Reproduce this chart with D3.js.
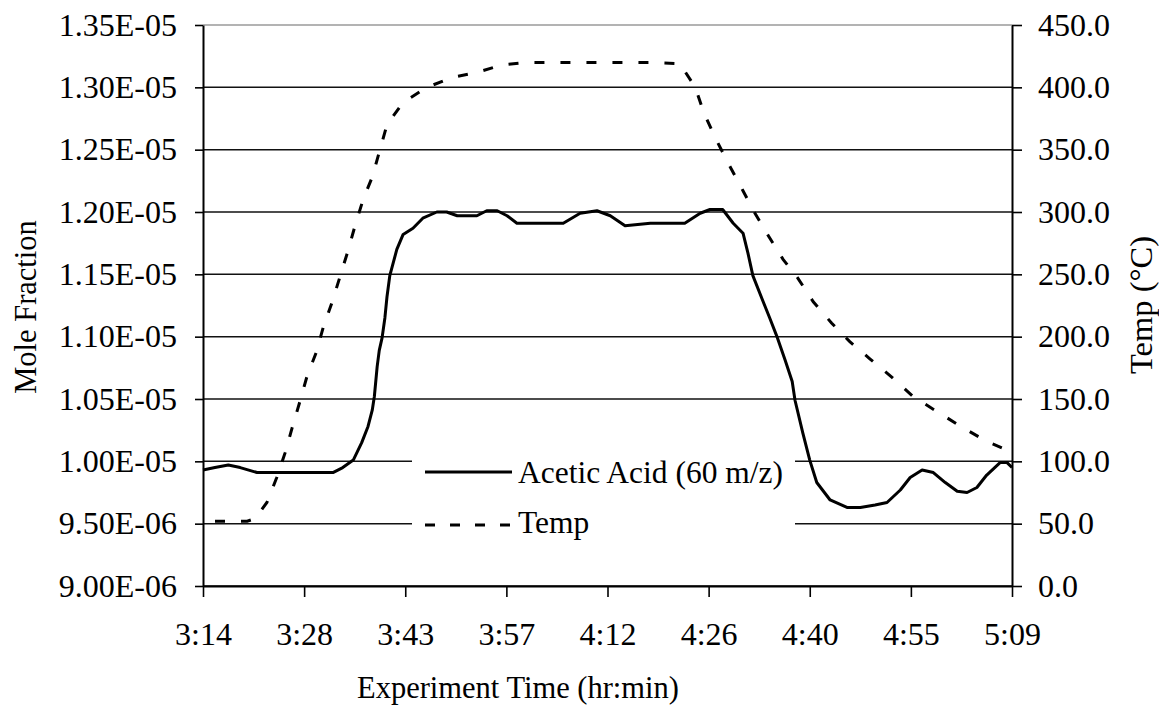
<!DOCTYPE html>
<html>
<head>
<meta charset="utf-8">
<script src="https://cdn.jsdelivr.net/npm/d3@7"></script>
<style>
  body { margin: 0; background: #fff; }
  svg { display: block; }
</style>
</head>
<body>
<svg id="chart" width="1159" height="710" font-family="'Liberation Serif', 'DejaVu Serif', 'Times New Roman', serif"></svg>
<script>
// Acetic acid (60 m/z) signal: time in minutes after midnight, mole fraction
const aceticTime = [194.4, 196.1, 198.0, 199.7, 202.1, 206.8, 212.9, 214.3, 215.8, 217.0,
  217.9, 218.5, 218.8, 219.2, 219.5, 219.9, 220.3, 220.6, 221.0, 222.0,
  222.9, 224.3, 225.7, 227.7, 229.1, 230.6, 233.4, 234.8, 236.3, 237.7,
  239.1, 245.7, 248.1, 250.5, 252.4, 254.5, 258.1, 263.0, 265.2, 266.6,
  268.4, 269.9, 271.3, 272.0, 272.7, 274.1, 275.1, 276.2, 277.3, 278.3,
  278.7, 279.8, 280.8, 281.8, 283.7, 286.1, 288.0, 290.1, 291.8, 293.7,
  295.1, 296.8, 298.4, 300.1, 301.8, 303.2, 304.6, 306.0, 307.9, 308.9, 309.6];
const aceticMole = [9.93e-6, 9.95e-6, 9.97e-6, 9.95e-6, 9.91e-6, 9.91e-6, 9.91e-6, 9.95e-6, 1.001e-5, 1.015e-5,
  1.028e-5, 1.041e-5, 1.052e-5, 1.076e-5, 1.089e-5, 1.099e-5, 1.115e-5, 1.132e-5, 1.149e-5, 1.170e-5,
  1.182e-5, 1.187e-5, 1.195e-5, 1.200e-5, 1.200e-5, 1.197e-5, 1.197e-5, 1.201e-5, 1.201e-5, 1.197e-5,
  1.191e-5, 1.191e-5, 1.199e-5, 1.201e-5, 1.197e-5, 1.189e-5, 1.191e-5, 1.191e-5, 1.199e-5, 1.202e-5,
  1.202e-5, 1.191e-5, 1.183e-5, 1.167e-5, 1.149e-5, 1.129e-5, 1.115e-5, 1.099e-5, 1.081e-5, 1.064e-5,
  1.049e-5, 1.023e-5, 1.001e-5, 9.83e-6, 9.69e-6, 9.63e-6, 9.63e-6, 9.65e-6, 9.67e-6, 9.77e-6,
  9.87e-6, 9.93e-6, 9.91e-6, 9.83e-6, 9.76e-6, 9.75e-6, 9.79e-6, 9.89e-6, 9.99e-6, 9.99e-6, 9.95e-6];

// Reactor temperature (°C) over the same run
const tempTime = [194.4, 200.7, 201.8, 203.5, 204.9, 206.1, 207.1, 208.2, 209.2, 210.5,
  211.5, 212.8, 213.9, 215.0, 216.0, 217.2, 218.5, 219.6, 220.6, 222.9,
  226.3, 229.9, 233.4, 237.0, 240.7, 244.2, 250.9, 258.1, 262.3, 264.5,
  265.7, 267.3, 269.2, 271.2, 273.0, 274.9, 277.0, 279.1, 281.3, 283.9,
  286.5, 289.4, 292.6, 295.5, 298.9, 302.6, 306.0, 309.3];
const tempC = [52, 52, 54, 67, 87, 107, 127, 148, 168, 187,
  207, 228, 248, 268, 288, 310, 328, 350, 370, 388,
  400, 408, 412, 418, 420, 420, 420, 420, 419, 400,
  380, 360, 339, 318, 299, 281, 262, 247, 228, 211,
  196, 182, 167, 152, 140, 127, 116, 108];

// Axis ticks
const xTickMinutes = [194.4, 208.8, 223.2, 237.6, 252.0, 266.4, 280.8, 295.2, 309.6];
const xTickLabels = ["3:14", "3:28", "3:43", "3:57", "4:12", "4:26", "4:40", "4:55", "5:09"];
const moleTicks = [9.0e-6, 9.5e-6, 1.0e-5, 1.05e-5, 1.1e-5, 1.15e-5, 1.2e-5, 1.25e-5, 1.3e-5, 1.35e-5];
const moleTickLabels = ["9.00E-06", "9.50E-06", "1.00E-05", "1.05E-05", "1.10E-05",
  "1.15E-05", "1.20E-05", "1.25E-05", "1.30E-05", "1.35E-05"];
const tempTicks = [0, 50, 100, 150, 200, 250, 300, 350, 400, 450];

const seriesNames = ["Acetic Acid (60 m/z)", "Temp"];

const SERIF = "'Liberation Serif', 'DejaVu Serif', 'Times New Roman', serif";
const FONT = "32px";
const plotLeft = 203, plotRight = 1012, plotTop = 25, plotBottom = 586;

const svg = d3.select("#chart");

const x = d3.scaleLinear().domain([xTickMinutes[0], xTickMinutes[xTickMinutes.length - 1]]).range([plotLeft, plotRight]);
const yL = d3.scaleLinear().domain([9.0e-6, 1.35e-5]).range([plotBottom, plotTop]);
const yR = d3.scaleLinear().domain([0, 450]).range([plotBottom, plotTop]);

// horizontal gridlines at each mole-fraction tick
svg.append("g").selectAll("line").data(moleTicks).join("line")
  .attr("x1", plotLeft).attr("x2", plotRight)
  .attr("y1", d => yL(d)).attr("y2", d => yL(d))
  .attr("stroke", (d, i) => i === moleTicks.length - 1 ? "#9a9a9a" : "#111")
  .attr("stroke-width", 1.5);

function styleAxis(g) {
  g.attr("font-family", SERIF).attr("font-size", FONT);
  g.selectAll("text").attr("fill", "#000");
  g.selectAll(".tick line").attr("stroke", "#000").attr("stroke-width", 1.6);
  g.select(".domain").attr("stroke", "#000").attr("stroke-width", 2);
}

// left axis: mole fraction
svg.append("g").attr("transform", `translate(${plotLeft},0)`)
  .call(d3.axisLeft(yL).tickValues(moleTicks).tickFormat((d, i) => moleTickLabels[i])
    .tickSize(8).tickSizeOuter(0).tickPadding(18))
  .call(styleAxis);

// right axis: temperature
svg.append("g").attr("transform", `translate(${plotRight},0)`)
  .call(d3.axisRight(yR).tickValues(tempTicks).tickFormat(d3.format(".1f"))
    .tickSize(10).tickSizeOuter(0).tickPadding(16))
  .call(styleAxis);

// bottom axis: experiment time
const xAxisG = svg.append("g").attr("transform", `translate(0,${plotBottom})`)
  .call(d3.axisBottom(x).tickValues(xTickMinutes).tickFormat((d, i) => xTickLabels[i])
    .tickSize(11).tickSizeOuter(0))
  .call(styleAxis);
xAxisG.selectAll("text").attr("y", 59).attr("dy", 0);

// data lines
const aceticLine = d3.line().x(d => x(d[0])).y(d => yL(d[1]));
const tempLine = d3.line().x(d => x(d[0])).y(d => yR(d[1]));

svg.append("path")
  .datum(aceticTime.map((t, i) => [t, aceticMole[i]]))
  .attr("d", aceticLine)
  .attr("fill", "none").attr("stroke", "#000").attr("stroke-width", 3)
  .attr("stroke-linejoin", "round");

svg.append("path")
  .datum(tempTime.map((t, i) => [t, tempC[i]]))
  .attr("d", tempLine)
  .attr("fill", "none").attr("stroke", "#000").attr("stroke-width", 3)
  .attr("stroke-dasharray", "10,16").attr("stroke-dashoffset", 14);

// legend
const lg = svg.append("g").attr("font-family", SERIF).attr("font-size", "31.5px");
lg.append("rect").attr("x", 412).attr("y", 445).attr("width", 383).attr("height", 100).attr("fill", "#fff");
lg.append("line").attr("x1", 425).attr("x2", 512).attr("y1", 472).attr("y2", 472)
  .attr("stroke", "#000").attr("stroke-width", 3);
lg.append("line").attr("x1", 425).attr("x2", 512).attr("y1", 525).attr("y2", 525)
  .attr("stroke", "#000").attr("stroke-width", 3).attr("stroke-dasharray", "10,15");
lg.append("text").attr("x", 518).attr("y", 483).text(seriesNames[0]);
lg.append("text").attr("x", 518).attr("y", 533).text(seriesNames[1]);

// axis titles
const titles = svg.append("g").attr("font-family", SERIF).attr("font-size", "30.5px");
titles.append("text").attr("x", 518).attr("y", 698).attr("text-anchor", "middle")
  .text("Experiment Time (hr:min)");
titles.append("text").attr("transform", "translate(36,307) rotate(-90)").attr("text-anchor", "middle")
  .text("Mole Fraction");
titles.append("text").attr("transform", "translate(1152,305) rotate(-90)").attr("text-anchor", "middle")
  .attr("font-size", "32.5px").text("Temp (°C)");
</script>
</body>
</html>
